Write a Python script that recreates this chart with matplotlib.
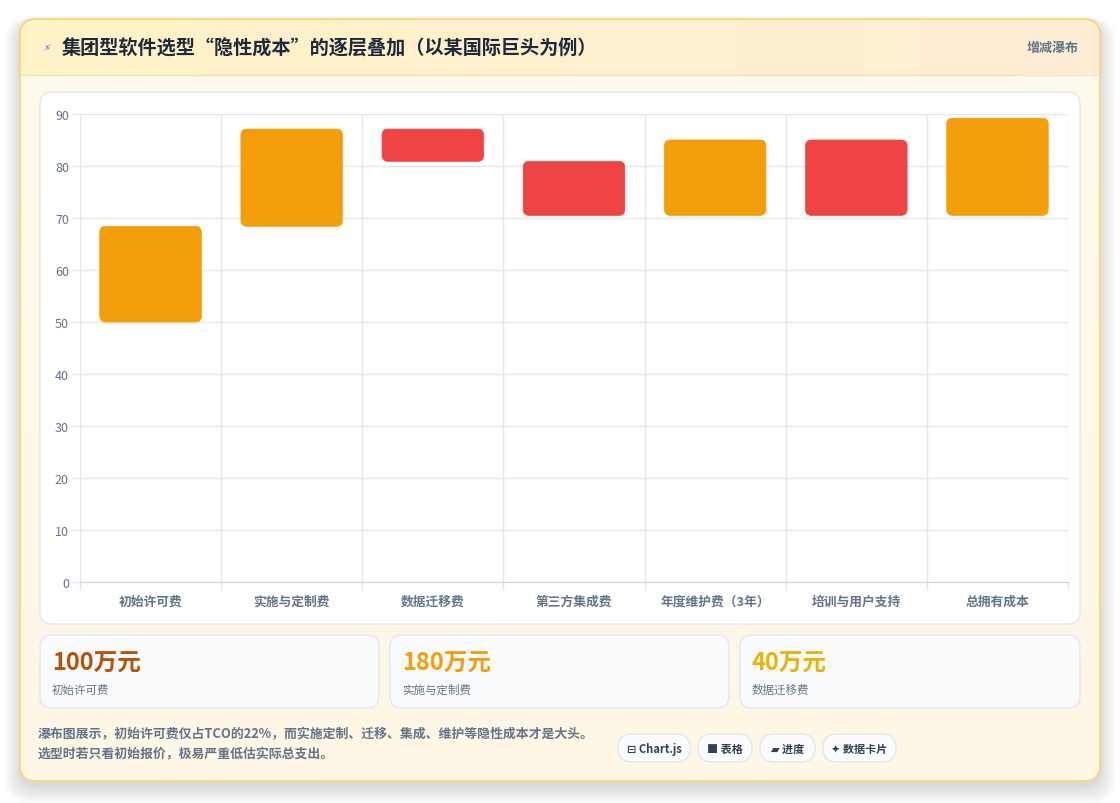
import matplotlib
matplotlib.use('Agg')
import matplotlib.pyplot as plt
from matplotlib.patches import FancyBboxPatch
import numpy as np

# ---------------- data ----------------
categories = ['初始许可费', '实施与定制费', '数据迁移费', '第三方集成费',
              '年度维护费（3年）', '培训与用户支持', '总拥有成本']
bar_start = [50, 68.4, 80.9, 70.5, 70.5, 70.5, 70.5]
bar_end = [68.4, 87.1, 87.1, 80.9, 85.0, 85.0, 89.2]
bar_kind = ['up', 'up', 'down', 'down', 'up', 'down', 'up']
y_ticks = [0, 10, 20, 30, 40, 50, 60, 70, 80, 90]

card_values = ['100万元', '180万元', '40万元']
card_labels = ['初始许可费', '实施与定制费', '数据迁移费']
card_colors = ['#b45309', '#f59e0b', '#eab308']

title = '集团型软件选型“隐性成本”的逐层叠加（以某国际巨头为例）'
badge_text = '增减瀑布'
footer_lines = ['瀑布图展示，初始许可费仅占TCO的22%，而实施定制、迁移、集成、维护等隐性成本才是大头。',
                '选型时若只看初始报价，极易严重低估实际总支出。']
pills = ['⊟ Chart.js', '■ 表格', '▰ 进度', '✦ 数据卡片']

kind_colors = {'up': '#f59e0b', 'down': '#ef4444'}

plt.rcParams['font.family'] = ['Noto Sans CJK SC', 'DejaVu Sans']

W, H = 1120, 804
fig = plt.figure(figsize=(W / 100, H / 100), dpi=100)
fig.patch.set_facecolor('#ffffff')

bg = fig.add_axes([0, 0, 1, 1], zorder=0)
bg.set_xlim(0, W)
bg.set_ylim(H, 0)
bg.axis('off')


def rrect(x0, y0, x1, y1, r, fc='none', ec='none', lw=1.0, z=1, alpha=1.0):
    p = FancyBboxPatch((x0, y0), x1 - x0, y1 - y0,
                       boxstyle=f'round,pad=0,rounding_size={r}',
                       fc=fc, ec=ec, lw=lw, zorder=z, alpha=alpha)
    bg.add_patch(p)
    return p


def grad_fill(patch, x0, y0, x1, y1, c0, c1, horizontal=False, z=1.5):
    c0 = np.array(matplotlib.colors.to_rgb(c0))
    c1 = np.array(matplotlib.colors.to_rgb(c1))
    t = np.linspace(0, 1, 256)
    cols = c0[None, :] * (1 - t[:, None]) + c1[None, :] * t[:, None]
    if horizontal:
        img = cols[None, :, :]
    else:
        img = cols[:, None, :]
    im = bg.imshow(img, extent=(x0, x1, y1, y0), aspect='auto', zorder=z,
                   interpolation='bilinear')
    im.set_clip_path(patch)
    return im


# shadow
for i in range(12):
    rrect(20 - i * 1.4, 26 - i * 0.8, 1100 + i * 1.5, 788 + i * 1.5, 16 + i,
          fc='#000000', z=0.5, alpha=0.011)

# outer card
card = rrect(20, 20, 1100, 782, 16, fc='#fffbeb', ec='none', z=1)
grad_fill(card, 20, 76, 1100, 782, '#fffbec', '#fef7e6', z=1.2)
grad_fill(card, 20, 20, 1100, 76, '#fef3c7', '#ffedd5', horizontal=True, z=1.3)
rrect(20, 20, 1100, 782, 16, fc='none', ec='#fbd46b', lw=1.2, z=1.6)
bg.plot([21, 1099], [76, 76], color='#f3e3bb', lw=1, zorder=1.7)

# title
bg.text(46, 49, '⚡', fontsize=8, color='#3b82f6', ha='center', va='center',
        zorder=3, family=['DejaVu Sans'], rotation=-20)
bg.text(62, 49, title, fontsize=13.8, fontweight='bold', color='#1e293b',
        ha='left', va='center', zorder=3)
bg.text(1079, 48, badge_text, fontsize=9.4, fontweight='bold', color='#64748b',
        ha='right', va='center', zorder=3)

# chart panel
rrect(40, 93, 1080, 625, 12, fc='#ffffff', ec='#e5e7eb', lw=1, z=2)

# cards
card_x = [(40, 379), (390, 729), (740, 1080)]
for (x0, x1), v, lab, c in zip(card_x, card_values, card_labels, card_colors):
    rrect(x0, 636, x1, 709, 12, fc='#f9fbfd', ec='#e2e8f0', lw=1, z=2)
    bg.text(x0 + 12, 664, v, fontsize=17, fontweight='heavy', color=c,
            ha='left', va='center', zorder=3)
    bg.text(x0 + 12, 690, lab, fontsize=8.3, color='#64748b',
            ha='left', va='center', zorder=3)

# footer
for i, line in enumerate(footer_lines):
    bg.text(38, 734 + i * 20, line, fontsize=9.3, fontweight='bold',
            color='#64748b', ha='left', va='center', zorder=3)

pill_x = [(618, 690), (698, 752), (760, 815), (823, 896)]
for (x0, x1), t in zip(pill_x, pills):
    rrect(x0, 735, x1, 763, 14, fc='#fbfcfd', ec='#e2e8f0', lw=1, z=2)
    bg.text((x0 + x1) / 2, 749.5, t, fontsize=8.0, fontweight='bold',
            color='#334155', ha='center', va='center', zorder=3)

# ---------------- chart ----------------
ax_x0, ax_x1, ax_y0, ax_y1 = 80, 1068, 115, 583
ax = fig.add_axes([ax_x0 / W, 1 - ax_y1 / H, (ax_x1 - ax_x0) / W, (ax_y1 - ax_y0) / H],
                  zorder=2)
ax.patch.set_alpha(0)
n = len(categories)
xs = np.arange(n)
ax.set_xlim(-0.5, n - 0.5)
ax.set_ylim(0, 90)

heights = [e - s for s, e in zip(bar_start, bar_end)]
colors = [kind_colors[k] for k in bar_kind]
bars = ax.bar(xs, heights, bottom=bar_start, width=0.72, color=colors, zorder=3)

px_per_x = (ax_x1 - ax_x0) / n
px_per_y = (ax_y1 - ax_y0) / 90.0
r_px = 6
for b, c in zip(bars, colors):
    b.set_visible(False)
    p = FancyBboxPatch((b.get_x(), b.get_y()), b.get_width(), b.get_height(),
                       boxstyle=f'round,pad=0,rounding_size={r_px / px_per_x}',
                       mutation_aspect=px_per_x / px_per_y,
                       fc=c, ec=c, lw=0.5, zorder=3)
    ax.add_patch(p)

grid_c = '#e5e7eb'
ax.set_yticks(y_ticks)
ax.set_yticklabels([str(v) for v in y_ticks])
ax.set_xticks(xs)
ax.set_xticklabels(categories)
ax.set_xticks(np.arange(-0.5, n, 1.0), minor=True)
ax.tick_params(axis='y', which='major', length=6, width=1, color=grid_c,
               labelsize=9.0, labelcolor='#64748b', pad=2)
ax.tick_params(axis='x', which='major', length=0, labelsize=9.2,
               labelcolor='#64748b', pad=9)
ax.tick_params(axis='x', which='minor', length=6, width=1, color=grid_c)
for lab in ax.get_xticklabels():
    lab.set_fontweight('bold')
ax.grid(axis='y', which='major', color=grid_c, lw=1, zorder=0)
ax.grid(axis='x', which='minor', color=grid_c, lw=1, zorder=0)
for s in ['top', 'right']:
    ax.spines[s].set_visible(False)
ax.spines['left'].set_color(grid_c)
ax.spines['bottom'].set_color('#cbd5e1')
ax.set_axisbelow(True)

fig.savefig('out.png', dpi=100, facecolor=fig.get_facecolor())
